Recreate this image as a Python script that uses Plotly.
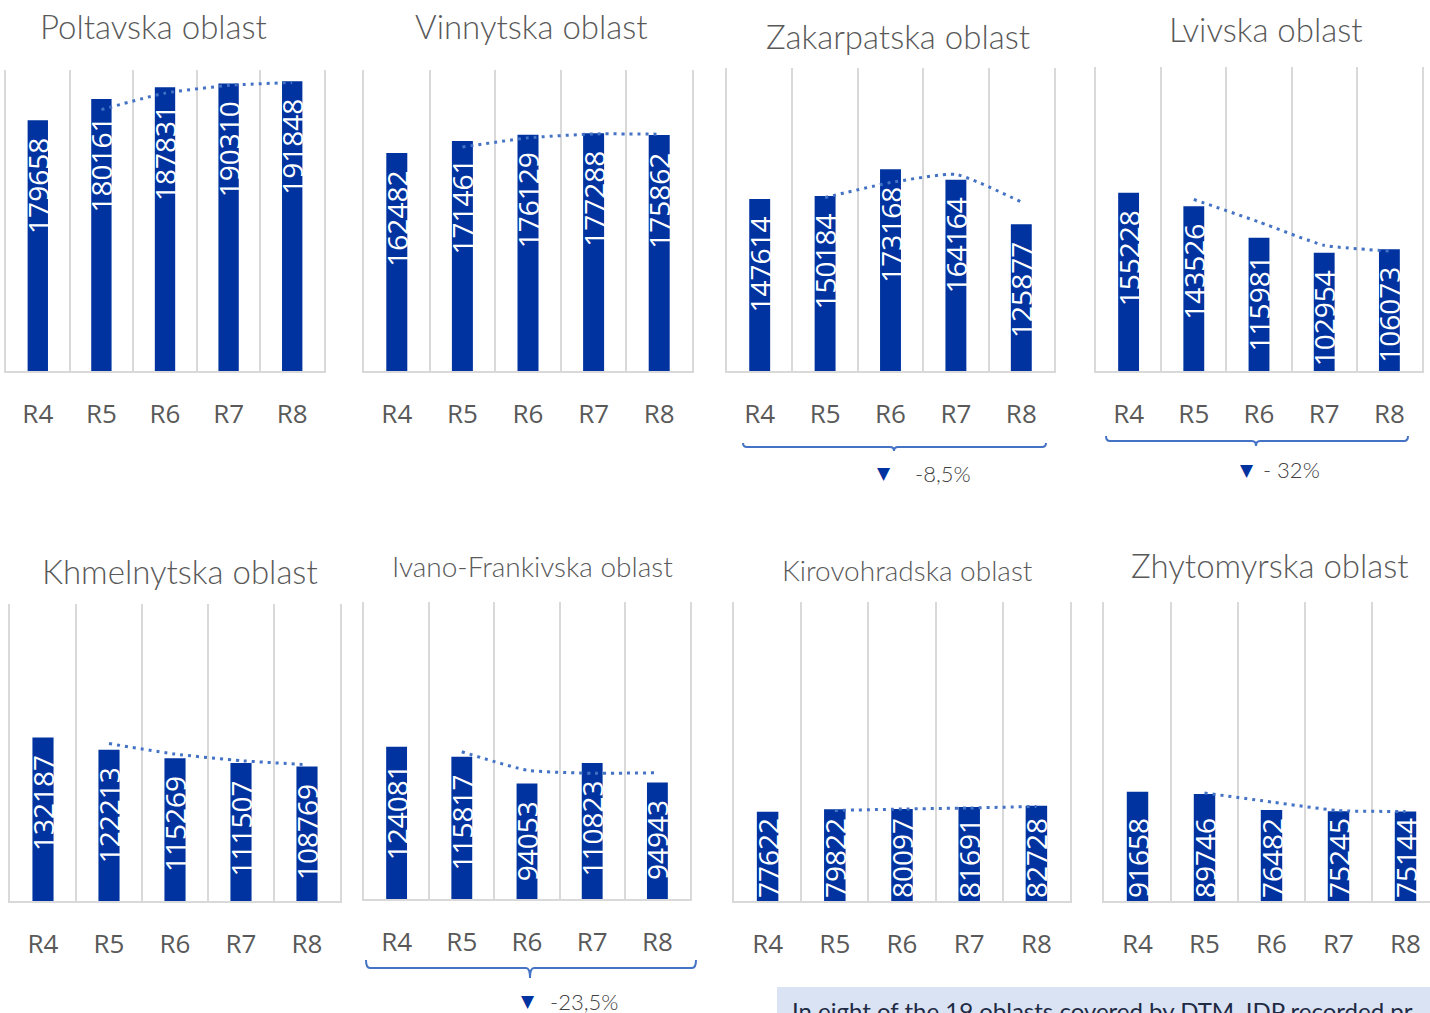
import plotly.graph_objects as go

# ---------------- data ----------------
rounds = ["R4", "R5", "R6", "R7", "R8"]

titles = ["Poltavska oblast", "Vinnytska oblast", "Zakarpatska oblast", "Lvivska oblast",
          "Khmelnytska oblast", "Ivano-Frankivska oblast", "Kirovohradska oblast", "Zhytomyrska oblast"]

poltavska_values = [166000, 180161, 187831, 190310, 191848]
poltavska_labels = ["179658", "180161", "187831", "190310", "191848"]
vinnytska_values = [162482, 171461, 176129, 177288, 175862]
zakarpatska_values = [147614, 150184, 173168, 164164, 125877]
lvivska_values = [155228, 143526, 115981, 102954, 106073]
khmelnytska_values = [132187, 122213, 115269, 111507, 108769]
ivano_frankivska_values = [124081, 115817, 94053, 110823, 94943]
kirovohradska_values = [77622, 79822, 80097, 81691, 82728]
zhytomyrska_values = [91658, 89746, 76482, 75245, 75144]

change_labels = {"Zakarpatska oblast": "-8,5%", "Lvivska oblast": "- 32%", "Ivano-Frankivska oblast": "-23,5%"}

note_text = "In eight of the 19 oblasts covered by DTM, IDP recorded pr"

series_values = [poltavska_values, vinnytska_values, zakarpatska_values, lvivska_values,
                 khmelnytska_values, ivano_frankivska_values, kirovohradska_values, zhytomyrska_values]
series_labels = [poltavska_labels] + [[str(v) for v in s] for s in series_values[1:]]

# ---------------- layout geometry (pixels) ----------------
W, H = 1430, 1013
# x0, x1, ytop, ybottom, ymax, xmax, right edge line, label anchor
panels = [
    (6, 324, 70, 371, 199300, 4.5, True, "end"),
    (364, 692, 70, 371, 224400, 4.5, True, "end"),
    (727, 1054, 68, 371, 260000, 4.5, True, "end"),
    (1096, 1422, 67, 371, 264700, 4.5, True, "end"),
    (10, 340, 604, 901, 240000, 4.5, True, "end"),
    (364, 690, 602, 899, 242000, 4.5, True, "end"),
    (734, 1070, 602, 901, 260000, 4.5, True, "start"),
    (1104, 1430, 602, 901, 251000, -0.5 + 326 / 67.0, False, "start"),
]
title_pos = [(153, 26, 33), (531, 26, 33), (898, 36, 33), (1266, 29, 33),
             (180, 571, 33), (532, 566, 28), (907, 570, 28), (1270, 565, 33)]

BAR = "#0033A0"
GRID = "#D9D9D9"
TREND = "#4472C4"
GREY = "#595959"


def px(x):
    return x / W


def py(y):
    return 1 - y / H


fig = go.Figure()
layout = dict(width=W, height=H, margin=dict(l=0, r=0, t=0, b=0),
              paper_bgcolor="white", plot_bgcolor="white", showlegend=False)

cats = list(range(len(rounds)))
for i, (vals, labs, geo) in enumerate(zip(series_values, series_labels, panels)):
    n = i + 1
    x0, x1, yt, yb, ymax, xmax, right, anchor = geo
    xa = "x" if n == 1 else f"x{n}"
    ya = "y" if n == 1 else f"y{n}"
    pad = "\u00a0\u00a0" if anchor == "end" else ""
    fig.add_trace(go.Bar(
        x=cats, y=vals, width=0.32, marker=dict(color=BAR, line=dict(width=0)),
        text=[l + pad for l in labs], textposition="inside", insidetextanchor=anchor,
        textangle=-90, constraintext="none",
        textfont=dict(color="white", size=28, family="Open Sans"),
        xaxis=xa, yaxis=ya, hoverinfo="skip"))
    ma = [(vals[k - 1] + vals[k]) / 2 for k in range(1, len(vals))]
    fig.add_trace(go.Scatter(
        x=cats[1:], y=ma, mode="lines",
        line=dict(color=TREND, width=3, dash="3px,5px", shape="spline", smoothing=0.5),
        xaxis=xa, yaxis=ya, hoverinfo="skip"))
    layout["xaxis" if n == 1 else f"xaxis{n}"] = dict(
        domain=[px(x0), min(px(x1), 1.0)], range=[-0.5, xmax], anchor=ya,
        tickmode="array", tickvals=cats, ticktext=rounds, showgrid=False, zeroline=False,
        minor=dict(tickmode="array", tickvals=[0.5, 1.5, 2.5, 3.5], showgrid=True,
                   gridcolor=GRID, gridwidth=2, ticks=""),
        showline=True, linecolor=GRID, linewidth=2, ticks="", ticklabelstandoff=19,
        tickfont=dict(family="Open Sans", size=26, color=GREY), fixedrange=True)
    layout["yaxis" if n == 1 else f"yaxis{n}"] = dict(
        domain=[py(yb), py(yt)], range=[0, ymax], anchor=xa,
        showticklabels=False, showgrid=False, zeroline=False,
        showline=True, linecolor=GRID, linewidth=2, mirror=right, ticks="", fixedrange=True)

fig.update_layout(**layout)

# titles
for t, (cx, cy, fs) in zip(titles, title_pos):
    fig.add_annotation(x=px(cx), y=py(cy), xref="paper", yref="paper", text=t, showarrow=False,
                       xanchor="center", yanchor="middle",
                       font=dict(family="Lato", size=fs, color=GREY, weight=300))

# brackets with change annotations
brackets = [
    ("Zakarpatska oblast", 743, 1046, 894, 443, 447, 451, 884, 913, 473),
    ("Lvivska oblast", 1106, 1408, 1256, 436, 441, 446, 1247, 1261, 470),
    ("Ivano-Frankivska oblast", 366, 696, 530, 960, 968, 978, 528, 548, 1001),
]
for name, bx0, bx1, bxm, ytop_, yline, ybot, tx, lx, ty in brackets:
    r = 4
    path = (f"M {px(bx0)},{py(ytop_)} Q {px(bx0)},{py(yline)} {px(bx0 + r)},{py(yline)} "
            f"L {px(bxm - r)},{py(yline)} Q {px(bxm)},{py(yline)} {px(bxm)},{py(ybot)} "
            f"Q {px(bxm)},{py(yline)} {px(bxm + r)},{py(yline)} "
            f"L {px(bx1 - r)},{py(yline)} Q {px(bx1)},{py(yline)} {px(bx1)},{py(ytop_)}")
    fig.add_shape(type="path", path=path, xref="paper", yref="paper",
                  line=dict(color=TREND, width=2))
    fig.add_annotation(x=px(tx), y=py(ty), xref="paper", yref="paper", text="▼", showarrow=False,
                       xanchor="center", yanchor="middle",
                       font=dict(family="DejaVu Sans", size=17, color=BAR))
    fig.add_annotation(x=px(lx), y=py(ty), xref="paper", yref="paper", text=change_labels[name],
                       showarrow=False, xanchor="left", yanchor="middle",
                       font=dict(family="Lato", size=22, color="#404040", weight=300))

# note box at bottom right (cut off by the page edge, as in the reference)
fig.add_shape(type="rect", x0=px(777), x1=1.02, y0=-0.05, y1=py(987), xref="paper", yref="paper",
              fillcolor="#DAE3F3", line=dict(width=0), layer="below")
fig.add_annotation(x=px(790), y=py(994), xref="paper", yref="paper", text=note_text,
                   showarrow=False, xanchor="left", yanchor="top",
                   font=dict(family="Lato", size=24, color="#1F2A44"))

fig.write_html("out.html", config={"displayModeBar": False},
               post_script="document.body.style.margin='0';document.body.style.overflow='hidden';")
